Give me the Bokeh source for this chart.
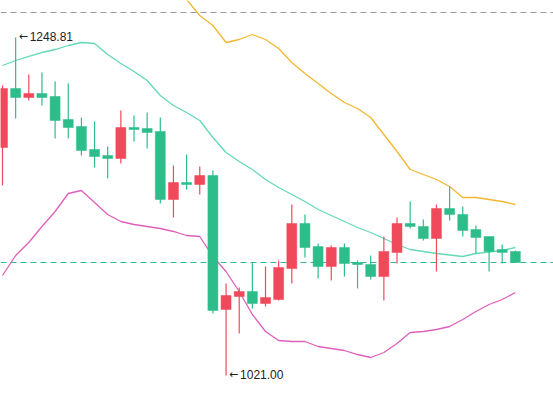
from bokeh.plotting import figure
from bokeh.models import ColumnDataSource, Span, Range1d
from bokeh.embed import file_html
from bokeh.resources import INLINE
from bokeh.core.properties import value

# ---- data ----
opens = [1174.67, 1214.44, 1208.37, 1211.07, 1209.04, 1193.54, 1188.82, 1173.32, 1169.28, 1167.26,
         1188.15, 1187.48, 1185.45, 1139.62, 1151.08, 1149.73, 1155.80, 1065.48, 1074.24, 1077.61,
         1069.53, 1072.22, 1093.12, 1123.45, 1107.94, 1094.46, 1107.27, 1097.16, 1095.81, 1087.72,
         1103.90, 1123.45, 1121.42, 1113.34, 1133.56, 1129.51, 1119.40, 1114.68, 1105.92, 1104.57]
highs = [1216.46, 1248.81, 1223.87, 1225.22, 1219.15, 1217.81, 1194.89, 1192.19, 1175.34, 1199.61,
         1196.24, 1198.26, 1194.89, 1162.54, 1169.95, 1161.86, 1159.17, 1083.01, 1080.31, 1097.16,
         1094.46, 1098.51, 1136.25, 1129.51, 1109.97, 1108.62, 1109.97, 1098.51, 1101.88, 1114.68,
         1127.49, 1138.27, 1126.14, 1136.25, 1148.38, 1134.90, 1122.10, 1114.68, 1109.29, 1105.25]
lows = [1149.06, 1194.22, 1206.35, 1202.98, 1180.74, 1180.74, 1169.28, 1161.19, 1153.78, 1163.89,
        1178.71, 1174.00, 1136.93, 1127.49, 1146.36, 1142.99, 1062.79, 1021.00, 1049.31, 1066.16,
        1067.50, 1071.55, 1083.01, 1100.53, 1086.38, 1085.03, 1087.72, 1079.64, 1085.70, 1071.55,
        1096.49, 1120.08, 1111.99, 1091.09, 1125.47, 1114.68, 1103.23, 1091.09, 1096.49, 1097.16]
closes = [1214.44, 1208.37, 1211.07, 1208.37, 1192.87, 1188.15, 1172.65, 1168.60, 1167.26, 1188.15,
          1186.80, 1184.78, 1139.62, 1151.08, 1149.73, 1155.80, 1064.81, 1074.92, 1077.61, 1069.53,
          1073.57, 1093.79, 1123.45, 1107.27, 1094.46, 1107.27, 1096.49, 1095.81, 1087.72, 1104.57,
          1123.45, 1121.42, 1113.34, 1133.56, 1129.51, 1118.73, 1114.01, 1104.57, 1103.90, 1097.16]

bb_mid = [1229.94, 1233.31, 1236.01, 1238.70, 1240.72, 1243.42, 1245.44, 1244.77, 1237.35, 1231.29,
          1225.90, 1219.83, 1209.72, 1202.98, 1198.26, 1192.87, 1181.41, 1171.30, 1165.24, 1159.84,
          1153.10, 1147.71, 1142.99, 1138.28, 1132.88, 1128.84, 1124.80, 1120.75, 1117.38, 1113.34,
          1109.29, 1105.92, 1104.58, 1103.23, 1102.22, 1101.21, 1103.23, 1104.24, 1105.25, 1107.27]
bb_upper = [1364.74, 1358.00, 1354.63, 1349.24, 1343.17, 1336.43, 1338.45, 1346.54, 1338.45, 1331.04,
            1322.28, 1311.49, 1292.62, 1281.16, 1274.42, 1263.64, 1256.90, 1245.44, 1247.46, 1250.83,
            1247.46, 1241.40, 1231.96, 1224.55, 1217.81, 1211.07, 1205.00, 1200.96, 1194.89, 1183.43,
            1171.98, 1159.84, 1156.47, 1153.10, 1148.39, 1140.97, 1140.97, 1139.62, 1138.28, 1136.25]
bb_lower = [1088.40, 1101.88, 1110.64, 1121.43, 1131.54, 1143.67, 1145.69, 1137.60, 1129.51, 1124.80,
            1122.77, 1121.43, 1120.08, 1118.06, 1115.36, 1114.69, 1101.21, 1091.10, 1077.62, 1062.11,
            1050.66, 1044.59, 1043.92, 1043.92, 1040.55, 1039.20, 1037.85, 1035.15, 1033.13, 1036.50,
            1042.57, 1049.98, 1050.66, 1052.00, 1054.03, 1058.74, 1064.14, 1068.85, 1072.22, 1076.94]

ref_level = 1265.66
max_label = "1248.81"
min_label = "1021.00"
arrow = "←"

UP = "#f0495b"
DOWN = "#2dbd8a"

idx = list(range(len(opens)))
colors = [UP if c > o else DOWN for o, c in zip(opens, closes)]
body_top = [max(o, c) for o, c in zip(opens, closes)]
body_bot = [min(o, c) for o, c in zip(opens, closes)]
# keep tiny bodies visible
for i in idx:
    if body_top[i] - body_bot[i] < 1.3:
        m = (body_top[i] + body_bot[i]) / 2
        body_top[i], body_bot[i] = m + 0.65, m - 0.65

src = ColumnDataSource(dict(x=idx, high=highs, low=lows, top=body_top, bottom=body_bot,
                            color=colors, mid=bb_mid, upper=bb_upper, lower=bb_lower))

p = figure(width=553, height=398, output_backend="svg", toolbar_location=None,
           x_range=Range1d(-0.152, 41.9), y_range=Range1d(1005.5, 1273.75),
           min_border=0, min_border_left=0, min_border_right=0,
           min_border_top=0, min_border_bottom=0)
p.xaxis.visible = False
p.yaxis.visible = False
p.grid.visible = False
p.outline_line_color = None
p.background_fill_color = "white"
p.border_fill_color = "white"

p.add_layout(Span(location=ref_level, dimension="width", line_color="#9a9a9a",
                  line_dash="6 4", line_width=1, level="underlay"))
p.add_layout(Span(location=closes[-1], dimension="width", line_color=DOWN,
                  line_dash="6 4", line_width=1, level="underlay"))

p.line("x", "upper", source=src, line_color="#f2b731", line_width=1.3)
p.line("x", "mid", source=src, line_color="#64d8b8", line_width=1.3)
p.line("x", "lower", source=src, line_color="#df5fbd", line_width=1.3)

p.segment(x0="x", y0="high", x1="x", y1="low", source=src, line_color="color", line_width=1.2)
p.vbar(x="x", top="top", bottom="bottom", width=0.76, source=src,
       fill_color="color", line_color="color", line_width=0.5)

hi_i = highs.index(max(highs))
lo_i = lows.index(min(lows))
for xi, yi, lab in [(hi_i, highs[hi_i], max_label), (lo_i, lows[lo_i], min_label)]:
    p.text(x=[xi], y=[yi], text=[arrow], x_offset=3, y_offset=-1, text_baseline="middle",
           text_align="left", text_font=value("DejaVu Sans"), text_font_size="11px",
           text_color="#222222")
    p.text(x=[xi], y=[yi], text=[lab], x_offset=14, y_offset=-1, text_baseline="middle",
           text_align="left", text_font=value("Liberation Sans"), text_font_size="12px",
           text_color="#222222")

open("out.html", "w").write(file_html(p, INLINE))
